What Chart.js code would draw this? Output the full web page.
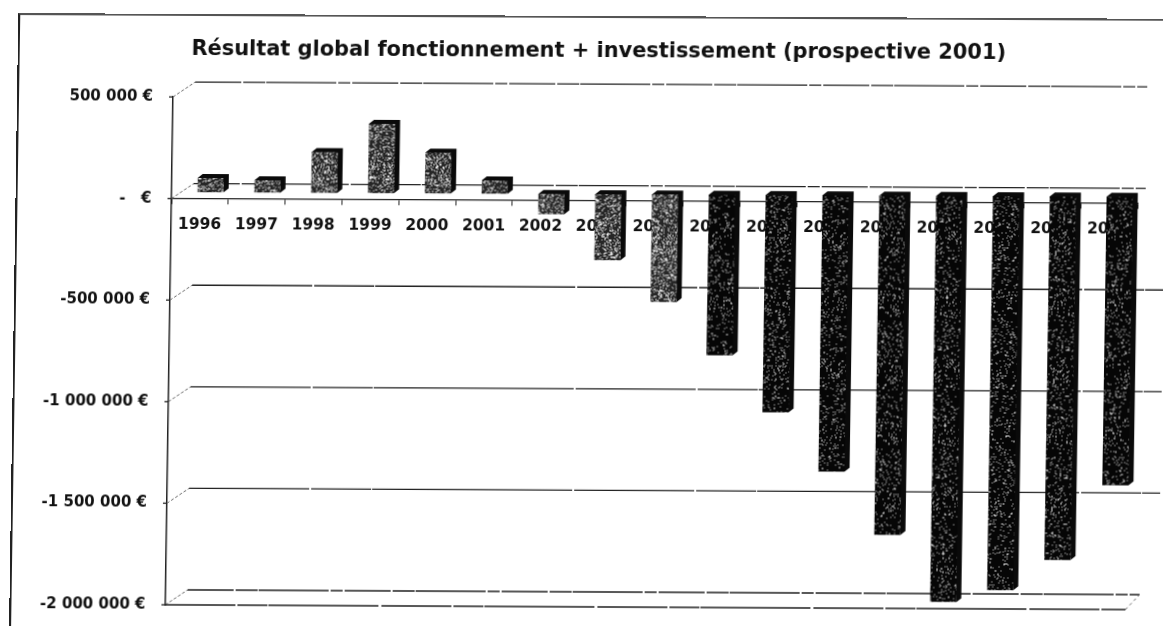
<!DOCTYPE html>
<html>
<head>
<meta charset="utf-8">
<script src="https://cdn.jsdelivr.net/npm/chart.js@4"></script>
<style>
html, body { margin: 0; padding: 0; background: #fff; overflow: hidden; }
#wrap {
    position: absolute; left: 0; top: 0; width: 1163px; height: 626px;
    transform-origin: 0 0;
    /* the original is a slightly skewed scan */
    transform: matrix(1, 0.005, -0.015, 1, 4.5, -1);
}
#frame { position: absolute; left: 14px; top: 14px; width: 1200px; height: 700px; border-left: 2px solid #222; border-top: 2px solid #555; }
</style>
</head>
<body>
<div id="wrap">
<div id="frame"></div>
<canvas id="chart" width="1163" height="626"></canvas>
</div>
<script>
const titleText = 'Résultat global fonctionnement + investissement (prospective 2001)';
const years = ['1996','1997','1998','1999','2000','2001','2002','2003','2004','2005','2006','2007','2008','2009','2010','2011','2012'];
const results = [70000, 60000, 200000, 340000, 200000, 65000, -100000, -325000, -530000, -790000, -1070000, -1360000, -1670000, -2000000, -1940000, -1790000, -1420000];
const yMin = -2000000;
const yMax = 500000;
const yStep = 500000;

const DEPTH_X = 22, DEPTH_Y = -15;   // back wall offset
const BAR_X = 10.5, BAR_Y = -6.5;    // bars sit in the middle of the depth
const SIDE_X = 5, SIDE_Y = -4;

// speckled fill, like the photocopied bars
function speckle(base, density) {
    const c = document.createElement('canvas');
    c.width = c.height = 128;
    const g = c.getContext('2d');
    g.fillStyle = base;
    g.fillRect(0, 0, 128, 128);
    let seed = 1234;
    const next = () => {
        seed = (seed * 1103515245 + 12345) % 2147483648;
        return Math.floor(seed / 2147483648 * 128);
    };
    g.fillStyle = '#e8e8e8';
    for (let i = 0; i < density; i++) {
        const x = next(), y = next();
        g.fillRect(x, y, 1, 1);
    }
    return g.createPattern(c, 'repeat');
}
const ctx0 = document.getElementById('chart').getContext('2d');
const lightFill = speckle('#262626', 5000);
const darkFill = speckle('#060606', 1500);

function frLabel(v) {
    if (v === 0) return '-   €';
    const s = String(Math.abs(v)).replace(/\B(?=(\d{3})+$)/g, ' ');
    return (v < 0 ? '-' : '') + s + ' €';
}

function scanLine(ctx, x1, y1, x2, y2, color, dash, width) {
    ctx.beginPath();
    ctx.strokeStyle = color;
    ctx.lineWidth = width || 1.3;
    ctx.setLineDash(dash || []);
    ctx.moveTo(x1, y1);
    ctx.lineTo(x2, y2);
    ctx.stroke();
    ctx.setLineDash([]);
}

// back wall, floor and diagonal lines of the 3D box
const wallPlugin = {
    id: 'wall',
    afterLayout(chart) {
        // the long tick labels run past the axis box, don't let them get clipped
        chart.scales.y.left = 0;
    },
    beforeDatasetsDraw(chart) {
        const ctx = chart.ctx, a = chart.chartArea, y = chart.scales.y;
        ctx.save();
        y.ticks.forEach(t => {
            const p = y.getPixelForValue(t.value);
            const outer = t.value === 0 || t.value === yMin || t.value === yMax;
            const dash = outer ? [46, 2, 22, 1, 70, 2, 12, 2] : [120, 2, 60, 1, 200, 2];
            scanLine(ctx, a.left + DEPTH_X, p + DEPTH_Y, a.right + (outer ? 8 : 28), p + DEPTH_Y, '#222', dash);
            scanLine(ctx, a.left, p, a.left + DEPTH_X, p + DEPTH_Y, '#666', [3, 2], 1);
            scanLine(ctx, a.left - 4, p, a.left, p, '#222');
        });
        const floor = y.getPixelForValue(yMin);
        scanLine(ctx, a.left, floor, a.right - 6, floor, '#222', [70, 2, 30, 1, 110, 3]);
        scanLine(ctx, a.right - 6, floor, a.right + 8, floor + DEPTH_Y, '#666', [3, 3], 1);
        ctx.restore();
    },
    beforeDatasetDraw(chart, args) {
        const ctx = chart.ctx;
        ctx.save();
        ctx.translate(BAR_X, BAR_Y);
        args.meta.data.forEach(bar => {
            const p = bar.getProps(['x', 'y', 'base', 'width'], true);
            const l = p.x - p.width / 2, r = p.x + p.width / 2;
            const top = Math.min(p.y, p.base), bot = Math.max(p.y, p.base);
            ctx.fillStyle = '#0a0a0a';
            ctx.beginPath();
            ctx.moveTo(l, top);
            ctx.lineTo(l + SIDE_X, top + SIDE_Y);
            ctx.lineTo(r + SIDE_X, top + SIDE_Y);
            ctx.lineTo(r + SIDE_X, bot + SIDE_Y);
            ctx.lineTo(r, bot);
            ctx.closePath();
            ctx.fill();
        });
    },
    afterDatasetDraw(chart) {
        chart.ctx.restore();
    }
};

new Chart(ctx0, {
    type: 'bar',
    plugins: [wallPlugin],
    data: {
        labels: years,
        datasets: [{
            data: results,
            barPercentage: 0.46,
            categoryPercentage: 1,
            backgroundColor: c => Math.abs(c.raw) > 600000 ? darkFill : lightFill,
            borderWidth: 0
        }]
    },
    options: {
        responsive: false,
        animation: false,
        events: [],
        layout: { padding: { left: 54, right: 27, top: 0, bottom: 21 } },
        plugins: {
            legend: { display: false },
            tooltip: { enabled: false },
            title: {
                display: true,
                text: titleText,
                color: '#111',
                font: { family: '"DejaVu Sans"', size: 20.9, weight: 'bold' },
                padding: { top: 37, bottom: 35 }
            }
        },
        scales: {
            x: {
                position: { y: 0 },
                border: { color: '#222', width: 1.3, dash: [60, 2, 30, 2] },
                grid: { drawOnChartArea: false, drawTicks: true, tickLength: 5, color: '#222' },
                ticks: {
                    color: '#111',
                    maxRotation: 0,
                    autoSkip: false,
                    padding: 12,
                    font: { family: '"DejaVu Sans"', size: 15.5, weight: 'bold' }
                }
            },
            y: {
                min: yMin,
                max: yMax,
                afterFit(s) { s.width = 116; },
                border: { color: '#222', width: 1.5 },
                grid: { display: false },
                ticks: {
                    stepSize: yStep,
                    color: '#111',
                    padding: 12,
                    callback: v => frLabel(v),
                    font: { family: '"DejaVu Sans"', size: 15, weight: 'bold' }
                }
            }
        }
    }
});
</script>
</body>
</html>
